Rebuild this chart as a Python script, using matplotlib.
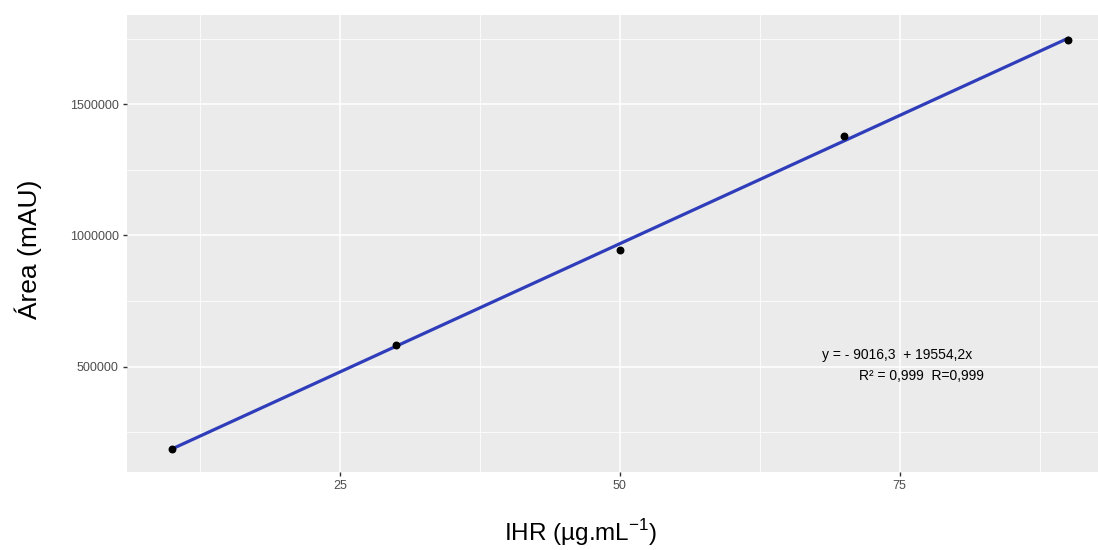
import numpy as np
import matplotlib
matplotlib.use("Agg")
import matplotlib.pyplot as plt
from matplotlib.ticker import MultipleLocator

plt.rcParams["font.family"] = ["Liberation Sans", "DejaVu Sans"]
plt.rcParams["mathtext.fontset"] = "custom"
plt.rcParams["mathtext.rm"] = "Liberation Sans"

# calibration data
conc = [10, 30, 50, 70, 90]                       # IHR (µg/mL)
area = [188000, 582000, 945000, 1378000, 1745000]  # Área (mAU)

# fitted line printed on the chart
intercept = -9016.3
slope = 19554.2
eq_text = "y = - 9016,3  + 19554,2x"
r_text = "R² = 0,999  R=0,999"

x_ticks = [25, 50, 75]
y_ticks = [500000, 1000000, 1500000]

W, H = 1098, 550
fig = plt.figure(figsize=(W / 100, H / 100), dpi=100)
ax = fig.add_axes([127 / W, 1 - 472 / H, 1 - 127 / W, (472 - 15) / H])
ax.set_facecolor("#EBEBEB")

# grid (ggplot look)
ax.set_xticks(x_ticks)
ax.set_yticks(y_ticks)
ax.xaxis.set_minor_locator(MultipleLocator(12.5))
ax.yaxis.set_minor_locator(MultipleLocator(250000))
ax.grid(which="major", color="white", lw=1.1)
ax.grid(which="minor", color="white", lw=0.55)
ax.set_axisbelow(True)
for s in ax.spines.values():
    s.set_visible(False)

xs = np.array([min(conc), max(conc)])
ax.plot(xs, intercept + slope * xs, color="#2F3DBA", lw=2.3, zorder=3)
ax.scatter(conc, area, s=22, color="black", zorder=4)

ax.set_xlim(6.0, 92.7)
ax.set_ylim(99000, 1840000)

ax.tick_params(which="major", length=3, width=1, color="#333333",
               labelsize=9, labelcolor="#4D4D4D", pad=3)
ax.tick_params(which="minor", length=0)
ax.set_yticklabels([str(v) for v in y_ticks])

# axis titles placed where the (cropped) original has them
fig.text(581 / W, 1 - 533 / H, "IHR (µg.mL$^{-1}$)", fontsize=17.5,
         ha="center", va="center")
fig.text(28 / W, 1 - 249 / H, "Área (mAU)", fontsize=19, rotation=90,
         ha="center", va="center")

ax.text(74.8, 546000, eq_text, fontsize=10, ha="center", va="center")
ax.text(76.9, 466000, r_text, fontsize=10, ha="center", va="center")

fig.savefig("out.png", dpi=100)
